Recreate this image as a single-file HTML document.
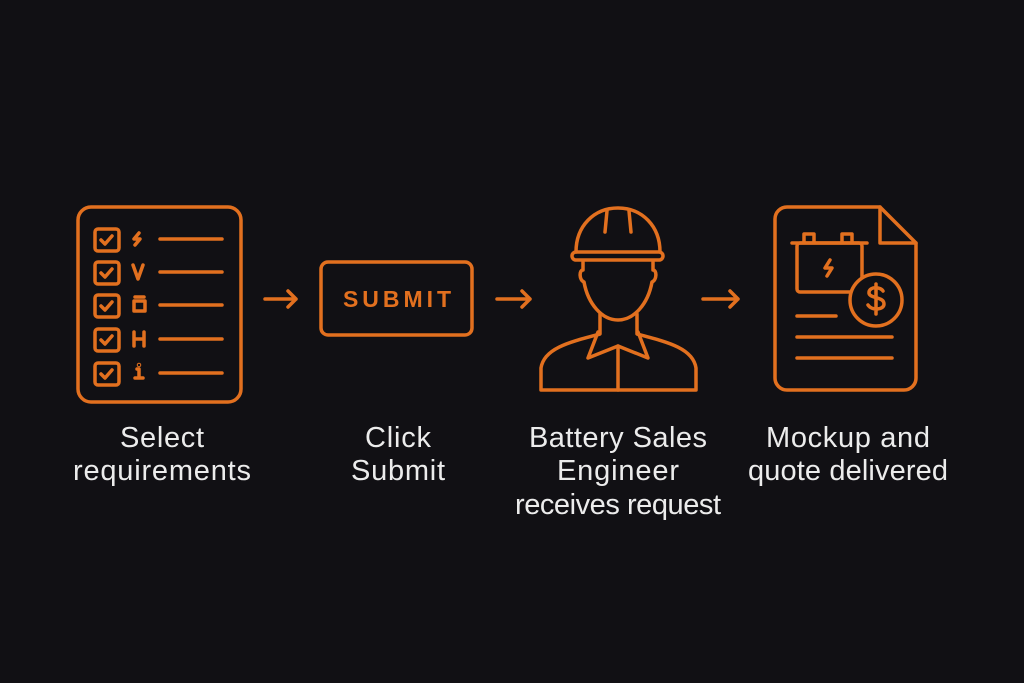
<!DOCTYPE html>
<html><head><meta charset="utf-8"><style>
html,body{margin:0;padding:0;background:#111014;}
svg{display:block}
text{font-family:"Liberation Sans",sans-serif;fill:#ececec;font-size:29px;text-anchor:middle}
</style></head><body>
<svg width="1024" height="683" viewBox="0 0 1024 683" xmlns="http://www.w3.org/2000/svg">
<rect width="1024" height="683" fill="#111014"/>
<g fill="none" stroke="#e2701f" stroke-width="3.5" stroke-linecap="round" stroke-linejoin="round">
<rect x="78" y="207" width="163" height="195" rx="13"/>
<g>
<rect x="95" y="229" width="24" height="22" rx="3"/><path d="M101 240l4 4 7-8"/><line x1="160" y1="239" x2="222" y2="239"/>
<rect x="95" y="262" width="24" height="22" rx="3"/><path d="M101 273l4 4 7-8"/><line x1="160" y1="272" x2="222" y2="272"/>
<rect x="95" y="295" width="24" height="22" rx="3"/><path d="M101 306l4 4 7-8"/><line x1="160" y1="305" x2="222" y2="305"/>
<rect x="95" y="329" width="24" height="22" rx="3"/><path d="M101 340l4 4 7-8"/><line x1="160" y1="339" x2="222" y2="339"/>
<rect x="95" y="363" width="24" height="22" rx="3"/><path d="M101 374l4 4 7-8"/><line x1="160" y1="373" x2="222" y2="373"/>
</g>
<path d="M139 233l-5 6h6l-5 6"/>
<path d="M133 265l5 14 5-14"/>
<rect x="134" y="301" width="11" height="10"/><line x1="135" y1="297" x2="144" y2="297"/>
<path d="M134 332v14M144 332v14M134 339h10"/>
<path d="M139 369v9M135 378h8M137 369h2"/><circle cx="139" cy="365" r="0.5"/>
<path d="M265 299h31M288 291l8 8-8 8"/>
<path d="M497 299h33M522 291l8 8-8 8"/>
<path d="M703 299h35M730 291l8 8-8 8"/>
<rect x="321" y="262" width="151" height="73" rx="7"/>
<path d="M576 252c0-26 18-44 42-44s42 18 42 44"/>
<path d="M607 211l-2 21M629 211l2 21"/>
<rect x="572" y="252" width="91" height="8" rx="4"/>
<path d="M583 262v8c-4 0-4 10 1 12 4 22 18 38 34 38s30-16 34-38c5-2 5-12 1-12v-8"/>
<path d="M600 314v20c-30 8-56 14-59 34v22h155v-22c-3-20-29-26-59-34v-20"/>
<path d="M598 332l-10 26 30-12 30 12-10-26"/>
<path d="M618 346v44"/>
<path d="M787 207h93l36 36v135a12 12 0 0 1-12 12h-117a12 12 0 0 1-12-12v-159a12 12 0 0 1 12-12z"/>
<path d="M880 207v36h36"/>
<rect x="797" y="243" width="65" height="49" rx="3"/>
<path d="M792 243h75M804 243v-9h10v9M842 243v-9h10v9"/>
<path d="M830 260l-5 8h7l-5 8"/>
<circle cx="876" cy="300" r="26" fill="#111014"/>
<path d="M883 291c-2-4-13-5-14 1-1 7 15 4 15 12 0 6-12 7-16 1M876 284v30"/>
<path d="M797 316h39M797 337h95M797 358h95"/>
</g>
<text x="397" y="307" style="fill:#e2701f;font-weight:bold;font-size:23px" textLength="108">SUBMIT</text>
<text x="162" y="447" textLength="84">Select</text>
<text x="162" y="480" textLength="178">requirements</text>
<text x="398" y="447" textLength="66">Click</text>
<text x="398" y="480" textLength="94">Submit</text>
<text x="618" y="447" textLength="178">Battery Sales</text>
<text x="618" y="480" textLength="122">Engineer</text>
<text x="618" y="514" textLength="206">receives request</text>
<text x="848" y="447" textLength="164">Mockup and</text>
<text x="848" y="480" textLength="200">quote delivered</text>
</svg>
</body></html>
